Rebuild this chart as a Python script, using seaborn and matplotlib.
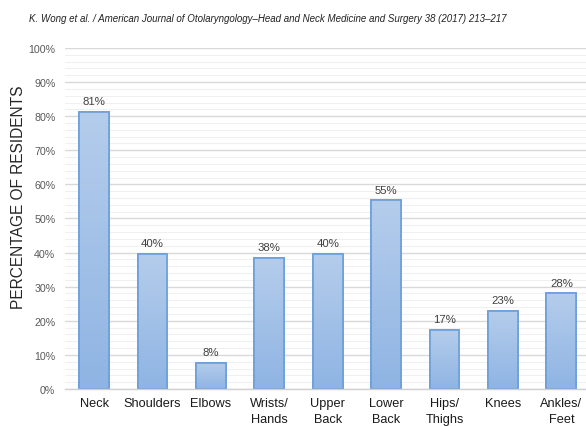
import numpy as np
import pandas as pd
import matplotlib
matplotlib.use("Agg")
import matplotlib.pyplot as plt
import seaborn as sns
from matplotlib.ticker import MultipleLocator, PercentFormatter
from matplotlib.colors import LinearSegmentedColormap

regions = ["Neck", "Shoulders", "Elbows", "Wrists/\nHands", "Upper\nBack",
           "Lower\nBack", "Hips/\nThighs", "Knees", "Ankles/\nFeet"]
percent = [81.3, 39.7, 7.7, 38.5, 39.7, 55.4, 17.4, 23.0, 28.0]
percent_labels = ["81%", "40%", "8%", "38%", "40%", "55%", "17%", "23%", "28%"]

df = pd.DataFrame({"region": regions, "percent": percent})

sns.set_theme(style="white")
plt.rcParams["font.family"] = ["Liberation Sans", "DejaVu Sans"]

fig = plt.figure(figsize=(5.86, 4.27), dpi=100)
ax = fig.add_axes([0.1109, 0.0867, 0.8968, 0.7986])

sns.barplot(data=df, x="region", y="percent", ax=ax, color="#9dbde6",
            width=0.51, edgecolor="#6c9fd9", linewidth=1.2, saturation=1)

# gradient fill clipped to each bar
cmap = LinearSegmentedColormap.from_list("g", ["#8fb4e3", "#b5cdec"])
grad = np.linspace(0, 1, 256).reshape(-1, 1)
for p in list(ax.patches):
    x0, y0 = p.get_x(), p.get_y()
    w, h = p.get_width(), p.get_height()
    im = ax.imshow(grad, cmap=cmap, origin="lower", aspect="auto",
                   extent=[x0, x0 + w, y0, y0 + h], zorder=p.get_zorder() + 0.1)
    im.set_clip_path(p)
    edge = plt.Rectangle((x0, y0), w, h, fill=False, edgecolor="#6c9fd9",
                         linewidth=1.2, zorder=p.get_zorder() + 0.2)
    ax.add_patch(edge)

for i, (v, lab) in enumerate(zip(percent, percent_labels)):
    ax.annotate(lab, (i, v), xytext=(0, 4), textcoords="offset points",
                ha="center", va="bottom", fontsize=8.2, color="#404040")

ax.set_xlim(-0.5, 8.5)
ax.set_ylim(0, 100)
ax.yaxis.set_major_locator(MultipleLocator(10))
ax.yaxis.set_minor_locator(MultipleLocator(2))
ax.yaxis.set_major_formatter(PercentFormatter(decimals=0))
ax.grid(which="major", axis="y", color="#d9d9d9", linewidth=1.0)
ax.grid(which="minor", axis="y", color="#f0f0f0", linewidth=0.8)
ax.set_axisbelow(True)
for s in ["top", "right", "left"]:
    ax.spines[s].set_visible(False)
ax.spines["bottom"].set_color("#d0d0d0")
ax.spines["bottom"].set_linewidth(1.0)

ax.tick_params(axis="y", which="both", length=0, pad=7, labelsize=7.7,
               labelcolor="#595959")
ax.tick_params(axis="x", length=0, pad=6, labelsize=9.2, labelcolor="#1a1a1a")
for t in ax.get_xticklabels():
    t.set_linespacing(1.45)
ax.set_xlabel("")
ax.set_ylabel("PERCENTAGE OF RESIDENTS", fontsize=11.2, color="#262626")
ax.yaxis.set_label_coords(-0.074, 0.566)

fig.text(0.0495, 0.9555,
         "K. Wong et al. / American Journal of Otolaryngology\u2013Head and Neck "
         "Medicine and Surgery 38 (2017) 213\u2013217",
         fontsize=7.0, style="italic", color="#222222", va="center", ha="left",
         family=["Liberation Sans Narrow", "Liberation Sans", "DejaVu Sans"])

fig.savefig("out.png", dpi=100, facecolor="white")
